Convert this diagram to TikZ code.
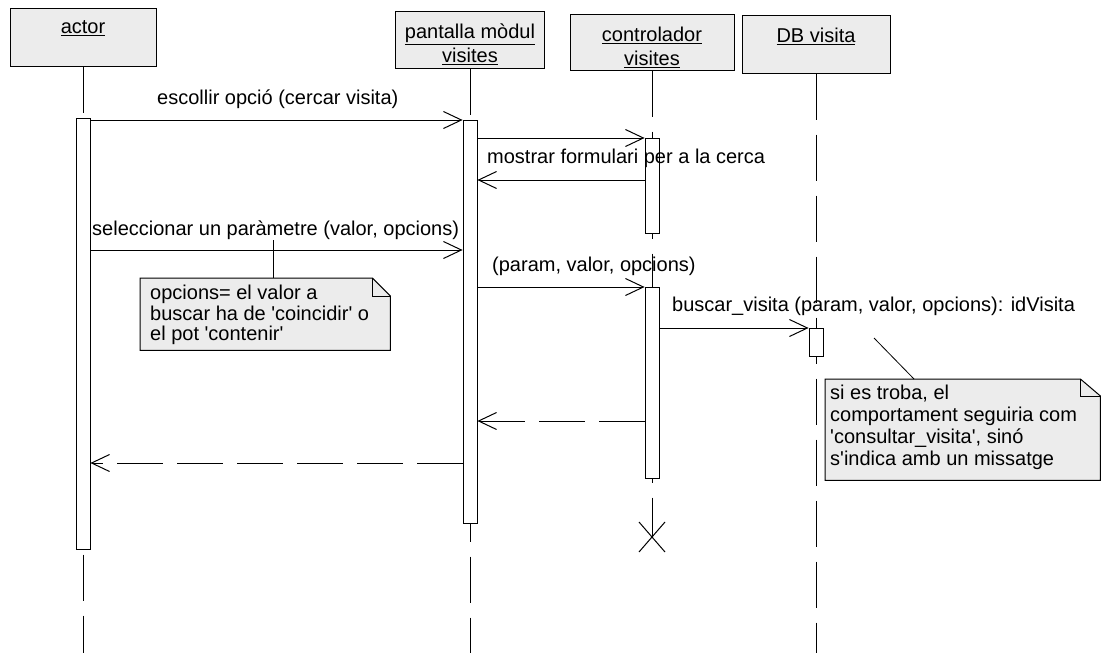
\documentclass[tikz,border=0pt]{standalone}
\usepackage{fontspec}
\setmainfont{Liberation Sans}
\usetikzlibrary{arrows.meta,positioning}

\newcommand\sq{\textquotesingle}

\tikzset{
  hdr/.style={draw, line width=1pt, fill=gray!15, inner sep=0pt},
  hdrtext/.style={align=center, inner sep=3pt, font=\fontsize{20}{24}\selectfont},
  act/.style={draw, line width=0.8pt, fill=white, minimum width=14pt, inner sep=0pt, anchor=north},
  lifeline/.style={line width=1pt, dash pattern=on 46pt off 15pt},
  msg/.style={line width=1pt, -{Straight Barb[length=18pt,width=17pt,line width=1pt]}},
  ret/.style={msg, dash pattern=on 46pt off 14pt},
  lbl/.style={anchor=west, inner sep=0pt, font=\fontsize{20}{24}\selectfont},
  notebox/.style={inner sep=0pt, anchor=north west},
  notetext/.style={anchor=north west, align=left, inner sep=0pt},
  noteline/.style={line width=1pt, fill=gray!15},
}

\begin{document}
\begin{tikzpicture}[x=1pt,y=-1pt]
\useasboundingbox (0,0) rectangle (1101,653);
\coordinate (bot) at (0,653);

% objects
\node[hdr, minimum width=146pt, minimum height=58pt] (hA) at (83,37) {};
\node[hdr, minimum width=149pt, minimum height=57pt] (hP) at (470,39.5) {};
\node[hdr, minimum width=164pt, minimum height=56pt] (hC) at (652,42) {};
\node[hdr, minimum width=148pt, minimum height=58pt] (hD) at (816,44) {};
\node[hdrtext, below=10pt of hA.north] (tA) {\underline{actor}};
\node[hdrtext, below=10pt of hP.north] (tP) {\underline{pantalla mòdul}\\\underline{visites}};
\node[hdrtext, below=10pt of hC.north] (tC) {\underline{controlador}\\\underline{visites}};
\node[hdrtext, below=10pt of hD.north] (tD) {\underline{DB visita}};

% lifelines
\foreach \h in {hA,hP,hD}
    \draw[lifeline] (\h.south) -- (\h.south |- bot);
\coordinate (xC) at (hC.south |- 0,537);
\draw[lifeline] (hC.south) -- (xC);
\draw[line width=1pt] (xC) +(-13,-15) -- +(13,15) (xC) +(-13,15) -- +(13,-15);

% activations
\node[act, minimum height=431pt] (aA) at (hA.south |- 0,118) {};
\node[act, minimum height=403pt] (aP) at (hP.south |- 0,120) {};
\node[act, minimum height=95pt] (aC1) at (hC.south |- 0,138) {};
\node[act, minimum height=191pt] (aC2) at (hC.south |- 0,287) {};
\node[act, minimum height=28pt] (aD) at (hD.south |- 0,328) {};

% messages
\foreach \f/\t/\y in {aA/aP/120, aP/aC1/138, aA/aP/250, aP/aC2/287, aC2/aD/328}
    \draw[msg] (\f.east |- 0,\y) -- (\t.west |- 0,\y);
\draw[msg] (aC1.west |- 0,180) -- (aP.east |- 0,180);
\draw[ret] (aC2.west |- 0,421) -- (aP.east |- 0,421);
\draw[ret] (aP.west |- 0,463) -- (aA.east |- 0,463);

\node[lbl] (m1) at (157,99) {escollir opció (cercar visita)};
\node[lbl] (m2) at (487,158) {mostrar formulari per a la cerca};
\node[lbl] (m3) at (92,230) {seleccionar un paràmetre (valor, opcions)};
\node[lbl] (m4) at (492,266) {(param, valor, opcions)};
\node[lbl] (m5) at (672,306) {buscar\_visita (param, valor, opcions): idVisita};

% notes
\node[notebox, minimum width=250pt, minimum height=72pt] (n1) at (140,278) {};
\draw[noteline] (n1.north west) -- ([xshift=-18pt]n1.north east) -- ([yshift=-18pt]n1.north east)
    -- (n1.south east) -- (n1.south west) -- cycle;
\draw[line width=1pt] ([xshift=-18pt]n1.north east) |- ([yshift=-18pt]n1.north east);
\node[notetext, font=\fontsize{20}{20.5}\selectfont] (n1t) at ([xshift=10pt,yshift=-7pt]n1.north west)
    {opcions= el valor a\\buscar ha de \sq coincidir\sq{} o\\el pot \sq contenir\sq};
\coordinate (c1) at (273,240);
\draw[line width=0.8pt] (c1) -- (c1 |- n1.north);

\node[notebox, minimum width=275pt, minimum height=101pt] (n2) at (825,379) {};
\draw[noteline] (n2.north west) -- ([xshift=-20pt]n2.north east) -- ([yshift=-17pt]n2.north east)
    -- (n2.south east) -- (n2.south west) -- cycle;
\draw[line width=1pt] ([xshift=-20pt]n2.north east) |- ([yshift=-17pt]n2.north east);
\node[notetext, font=\fontsize{20}{22}\selectfont] (n2t) at ([xshift=5pt,yshift=-6pt]n2.north west)
    {si es troba, el\\comportament seguiria com\\\sq consultar\_visita\sq, sinó\\s\sq indica amb un missatge};
\coordinate (c2) at (874,338);
\draw[line width=0.8pt] (c2) -- ([xshift=89pt]n2.north west);
\end{tikzpicture}
\end{document}
